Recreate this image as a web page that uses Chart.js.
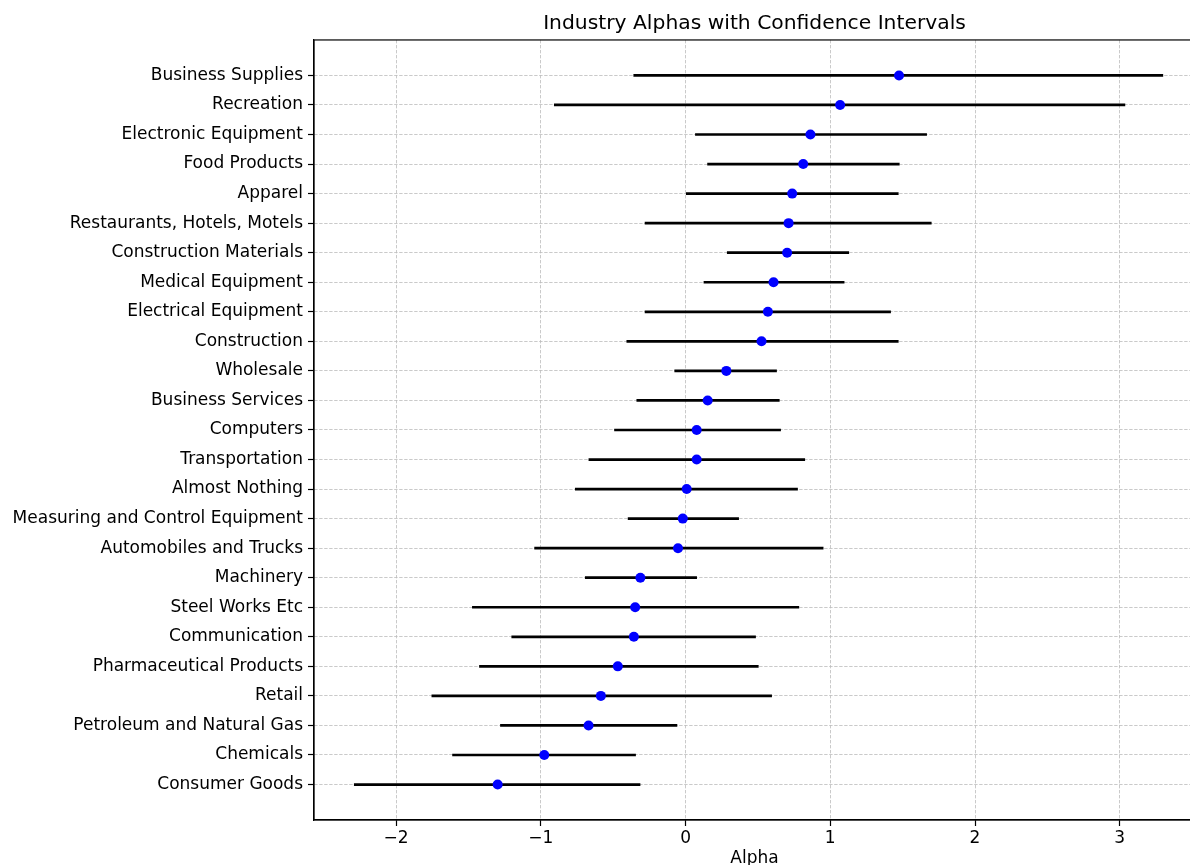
<!DOCTYPE html>
<html>
<head>
<meta charset="utf-8">
<script src="https://cdn.jsdelivr.net/npm/chart.js@4.4.1/dist/chart.umd.min.js"></script>
<style>
  html, body { margin: 0; padding: 0; background: #fff; overflow: hidden; }
  canvas { display: block; }
</style>
</head>
<body>
<canvas id="alphaChart" width="1200" height="865"></canvas>
<script>
// industries, top to bottom
const industries = [
  "Business Supplies", "Recreation", "Electronic Equipment", "Food Products",
  "Apparel", "Restaurants, Hotels, Motels", "Construction Materials",
  "Medical Equipment", "Electrical Equipment", "Construction", "Wholesale",
  "Business Services", "Computers", "Transportation", "Almost Nothing",
  "Measuring and Control Equipment", "Automobiles and Trucks", "Machinery",
  "Steel Works Etc", "Communication", "Pharmaceutical Products", "Retail",
  "Petroleum and Natural Gas", "Chemicals", "Consumer Goods"
];
const alphas = [1.475, 1.068, 0.863, 0.813, 0.737, 0.712, 0.702, 0.608, 0.569, 0.525,
  0.282, 0.153, 0.077, 0.077, 0.008, -0.019, -0.052, -0.312, -0.348, -0.357,
  -0.468, -0.585, -0.670, -0.976, -1.298];
const ciLower = [-0.36, -0.909, 0.066, 0.150, 0.003, -0.282, 0.286, 0.125, -0.282, -0.408,
  -0.077, -0.339, -0.493, -0.670, -0.764, -0.399, -1.045, -0.695, -1.475, -1.203,
  -1.426, -1.755, -1.281, -1.612, -2.291];
const ciUpper = [3.30, 3.038, 1.668, 1.479, 1.472, 1.70, 1.130, 1.098, 1.419, 1.472,
  0.631, 0.650, 0.659, 0.826, 0.776, 0.369, 0.953, 0.079, 0.785, 0.486,
  0.505, 0.597, -0.057, -0.343, -0.312];
const xTicks = [-2, -1, 0, 1, 2, 3];

const FONT = "'DejaVu Sans', sans-serif";
const GRID = "#bcbcbc";

// dots
const points = alphas.map((a, i) => ({ x: a, y: i }));

// error bars, one segment per industry, broken by null points
const bars = [];
industries.forEach((name, i) => {
  bars.push({ x: ciLower[i], y: i });
  bars.push({ x: ciUpper[i], y: i });
  bars.push({ x: null, y: null });
});

// top/right spines
const framePlugin = {
  id: "frame",
  afterDatasetsDraw(chart) {
    const a = chart.chartArea;
    const ctx = chart.ctx;
    ctx.save();
    ctx.strokeStyle = "#000";
    ctx.lineWidth = 1.2;
    ctx.strokeRect(a.left, a.top, a.right - a.left, a.bottom - a.top);
    ctx.restore();
  }
};

const ctx = document.getElementById("alphaChart").getContext("2d");
new Chart(ctx, {
  type: "scatter",
  data: {
    datasets: [
      {
        label: "Alpha",
        data: points,
        backgroundColor: "#0000ff",
        borderColor: "#0000ff",
        pointRadius: 5,
        pointBorderWidth: 0,
        showLine: false,
        order: 0,
      },
      {
        label: "CI",
        data: bars,
        showLine: true,
        spanGaps: false,
        borderColor: "#000",
        borderWidth: 2.7,
        pointRadius: 0,
        order: 1,
      },
    ],
  },
  options: {
    responsive: false,
    animation: false,
    devicePixelRatio: 1,
    layout: { padding: { left: 0, right: 0, top: 0, bottom: 0 } },
    plugins: {
      legend: { display: false },
      tooltip: { enabled: false },
      title: {
        display: true,
        fullSize: false,
        text: "Industry Alphas with Confidence Intervals",
        color: "#000",
        font: { family: FONT, size: 20.3, weight: "normal", lineHeight: 1.2 },
        padding: { top: 12, bottom: 3.6 },
      },
    },
    scales: {
      x: {
        type: "linear",
        min: -2.567,
        max: 3.52,
        afterBuildTicks: (scale) => {
          scale.ticks = xTicks.map((v) => ({ value: v }));
        },
        afterFit: (scale) => {
          scale.height = 45;
        },
        ticks: {
          color: "#000",
          font: { family: FONT, size: 17 },
          padding: 2,
          maxRotation: 0,
          callback: (v) => (v < 0 ? "\u2212" + Math.abs(v) : String(v)),
        },
        grid: {
          color: GRID,
          lineWidth: 0.8,
          tickColor: "#000",
          tickLength: 6,
          tickWidth: 1.2,
          tickBorderDash: [],
        },
        border: { display: true, color: "#000", width: 1.2, dash: [3.4, 1.6] },
        title: {
          display: true,
          text: "Alpha",
          color: "#000",
          font: { family: FONT, size: 17 },
          padding: { top: 0, bottom: -3.5 },
        },
      },
      y: {
        type: "linear",
        reverse: true,
        min: -1.2,
        max: 25.2,
        afterBuildTicks: (scale) => {
          scale.ticks = industries.map((n, i) => ({ value: i }));
        },
        afterFit: (scale) => {
          scale.width = 314;
        },
        ticks: {
          color: "#000",
          font: { family: FONT, size: 17 },
          padding: 5,
          autoSkip: false,
          callback: (v) => industries[v],
        },
        grid: {
          color: GRID,
          lineWidth: 0.8,
          tickColor: "#000",
          tickLength: 6,
          tickWidth: 1.2,
          tickBorderDash: [],
        },
        border: { display: true, color: "#000", width: 1.2, dash: [3.4, 1.6] },
      },
    },
  },
  plugins: [framePlugin],
});
</script>
</body>
</html>
